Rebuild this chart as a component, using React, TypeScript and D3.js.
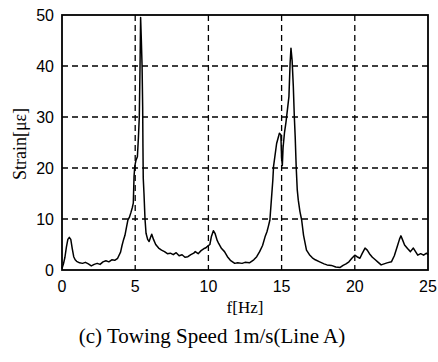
import React, { useEffect, useRef } from "react";
import * as d3 from "d3";

const freqHz = [
  0.0, 0.1, 0.2, 0.3, 0.4, 0.5, 0.6, 0.7, 0.8, 0.9, 1.0, 1.2, 1.4, 1.6, 1.8, 2.0, 2.2, 2.4, 2.6, 2.8,
  3.0, 3.2, 3.4, 3.6, 3.8, 4.0, 4.1, 4.2, 4.3, 4.4, 4.5, 4.6, 4.7, 4.8, 4.87, 4.92, 4.97, 5.05, 5.15, 5.22,
  5.28, 5.33, 5.37, 5.42, 5.47, 5.51, 5.53, 5.55, 5.6, 5.67, 5.74, 5.85, 5.95, 6.05, 6.13, 6.25, 6.4, 6.6, 6.8, 7.0,
  7.2, 7.4, 7.6, 7.8, 8.0, 8.2, 8.4, 8.6, 8.8, 9.0, 9.1, 9.3, 9.5, 9.7, 9.8, 10.0, 10.1, 10.2, 10.34, 10.45,
  10.6, 10.7, 10.9, 11.1, 11.3, 11.5, 11.8, 12.0, 12.3, 12.5, 12.8, 13.1, 13.3, 13.5, 13.7, 13.87, 14.0, 14.1, 14.2, 14.3,
  14.4, 14.45, 14.66, 14.85, 14.95, 15.0, 15.05, 15.1, 15.2, 15.3, 15.42, 15.5, 15.58, 15.64, 15.72, 15.8, 15.87, 15.93, 16.0, 16.07,
  16.14, 16.25, 16.37, 16.5, 16.7, 16.9, 17.1, 17.3, 17.6, 17.9, 18.1, 18.4, 18.7, 19.0, 19.2, 19.4, 19.6, 19.8, 20.0, 20.15,
  20.35, 20.5, 20.7, 20.85, 21.0, 21.2, 21.4, 21.6, 21.8, 22.0, 22.2, 22.5, 22.7, 22.9, 23.05, 23.15, 23.25, 23.4, 23.6, 23.8,
  24.0, 24.15, 24.3, 24.5, 24.7, 24.9, 25.0,
];

const strainMicro = [
  0.3, 1.2, 2.5, 4.5, 6.0, 6.4, 6.0, 4.2, 2.6, 2.0, 1.7, 1.4, 1.3, 1.5, 1.2, 0.8, 1.1, 1.3, 1.1, 1.6,
  1.8, 1.6, 2.0, 1.9, 2.3, 3.5, 4.8, 5.9, 6.8, 8.3, 9.8, 10.3, 11.2, 12.2, 13.1, 18.3, 20.3, 21.5, 22.2, 26,
  30, 39.9, 49.5, 45, 40, 32, 24, 18, 15, 10, 7.2, 6.0, 5.6, 6.4, 7.0, 6.0, 5.0, 4.3, 3.9, 3.6,
  3.2, 3.3, 3.0, 3.4, 2.8, 3.0, 2.5, 2.6, 3.0, 3.3, 3.6, 3.2, 3.8, 4.2, 4.3, 4.8, 5.0, 6.5, 7.7, 7.2,
  5.8, 5.2, 4.2, 3.6, 2.6, 1.9, 1.3, 1.4, 1.3, 1.5, 1.4, 2.0, 2.6, 3.6, 4.8, 6.5, 7.5, 8.6, 9.8, 13.7,
  17.6, 20.3, 24.8, 26.8, 26.5, 22, 20.5, 24, 27, 29, 32, 34, 40.5, 43.5, 41, 36, 30, 26, 20, 15.7,
  13.7, 11.5, 9.8, 6.8, 3.9, 3.0, 2.4, 2.0, 1.6, 1.2, 1.0, 0.9, 0.6, 0.5, 0.9, 1.2, 1.6, 2.3, 2.9, 2.6,
  2.3, 3.2, 4.3, 3.9, 3.2, 2.5, 2.0, 1.5, 1.0, 1.2, 1.4, 1.6, 2.8, 4.6, 6.0, 6.7, 6.0, 4.9, 4.2, 3.6,
  4.3, 3.6, 2.9, 3.2, 2.9, 3.3, 3.0,
];

const xTicks = [0, 5, 10, 15, 20, 25];
const yTicks = [0, 10, 20, 30, 40, 50];
const xLabel = "f[Hz]";
const yLabel = "Strain[\u03bc\u03b5]";
const caption = "(c) Towing Speed 1m/s(Line A)";

const W = 438;
const H = 362;
const plot = { left: 62, right: 428, top: 15, bottom: 270 };

export default function App() {
  const ref = useRef<SVGSVGElement | null>(null);

  useEffect(() => {
    const svg = d3.select(ref.current);
    svg.selectAll("*").remove();

    const x = d3.scaleLinear().domain([0, 25]).range([plot.left, plot.right]);
    const y = d3.scaleLinear().domain([0, 50]).range([plot.bottom, plot.top]);

    svg.append("rect").attr("width", W).attr("height", H).attr("fill", "#fff");

    const grid = svg.append("g").attr("stroke", "#000").attr("stroke-width", 1.3).attr("stroke-dasharray", "6,4");
    xTicks.slice(1, -1).forEach((t) => {
      grid.append("line").attr("x1", x(t)).attr("x2", x(t)).attr("y1", plot.top).attr("y2", plot.bottom);
    });
    yTicks.slice(1, -1).forEach((t) => {
      grid.append("line").attr("y1", y(t)).attr("y2", y(t)).attr("x1", plot.left).attr("x2", plot.right);
    });

    const data = freqHz.map((f, i) => [f, strainMicro[i]] as [number, number]);
    const line = d3
      .line<[number, number]>()
      .x((d) => x(d[0]))
      .y((d) => y(d[1]));
    svg
      .append("path")
      .attr("d", line(data) as string)
      .attr("fill", "none")
      .attr("stroke", "#000")
      .attr("stroke-width", 1.5)
      .attr("stroke-linejoin", "round");

    svg
      .append("rect")
      .attr("x", plot.left)
      .attr("y", plot.top)
      .attr("width", plot.right - plot.left)
      .attr("height", plot.bottom - plot.top)
      .attr("fill", "none")
      .attr("stroke", "#000")
      .attr("stroke-width", 1.8);

    const tickFont = "'Liberation Sans', Arial, sans-serif";
    svg
      .append("g")
      .selectAll("text")
      .data(xTicks)
      .join("text")
      .attr("x", (d) => x(d))
      .attr("y", 292)
      .attr("text-anchor", "middle")
      .attr("font-family", tickFont)
      .attr("font-size", 16)
      .text((d) => String(d));

    svg
      .append("g")
      .selectAll("text")
      .data(yTicks)
      .join("text")
      .attr("x", 54)
      .attr("y", (d) => y(d) + 6)
      .attr("text-anchor", "end")
      .attr("font-family", tickFont)
      .attr("font-size", 16)
      .text((d) => String(d));

    const serif = "'Liberation Serif', 'Times New Roman', serif";
    svg
      .append("text")
      .attr("x", (plot.left + plot.right) / 2)
      .attr("y", 313)
      .attr("text-anchor", "middle")
      .attr("font-family", serif)
      .attr("font-size", 17)
      .text(xLabel);

    svg
      .append("text")
      .attr("transform", `translate(26,144) rotate(-90)`)
      .attr("text-anchor", "middle")
      .attr("font-family", serif)
      .attr("font-size", 18)
      .text(yLabel);

    svg
      .append("text")
      .attr("x", 212)
      .attr("y", 343)
      .attr("text-anchor", "middle")
      .attr("font-family", serif)
      .attr("font-size", 21)
      .text(caption);
  }, []);

  return (
    <svg
      ref={ref}
      width={W}
      height={H}
      style={{ position: "absolute", left: 0, top: 0, display: "block" }}
    />
  );
}
